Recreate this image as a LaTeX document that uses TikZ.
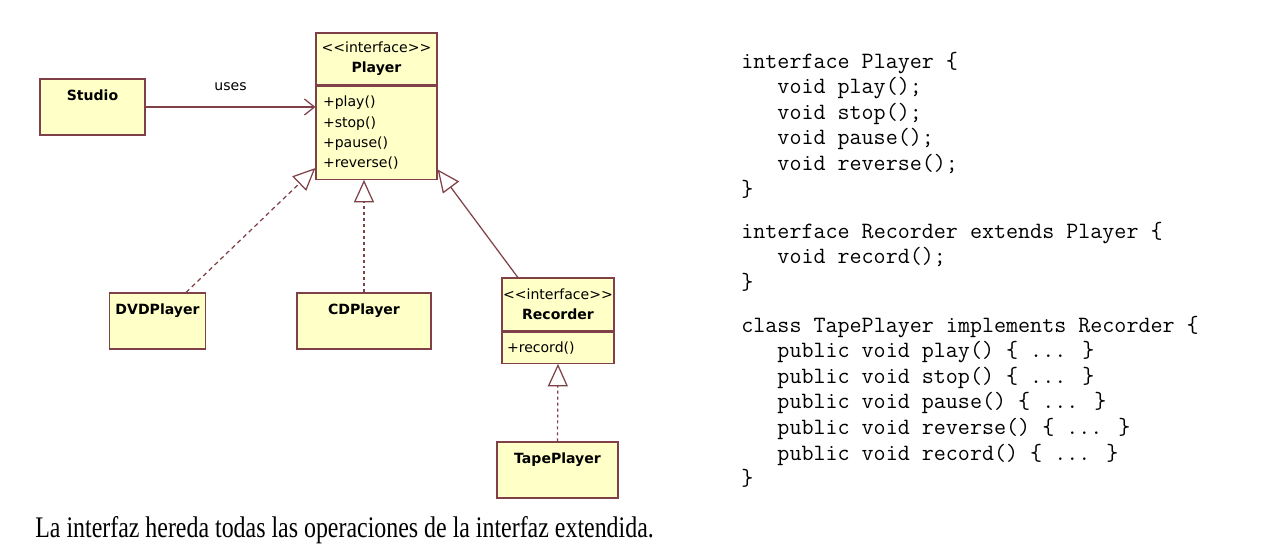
\documentclass[tikz,border=0pt]{standalone}
\usepackage{fontspec}
\setmainfont{Liberation Serif}
\newfontfamily\umlfont{DejaVu Sans}
\newfontfamily\capfont[FakeStretch=0.80]{Liberation Serif}
\usepackage{tikz}
\usetikzlibrary{arrows.meta, positioning}

\definecolor{umlline}{RGB}{128,64,72}
\definecolor{umlfill}{RGB}{255,255,200}
\newcommand{\codeindent}{\hphantom{xxx}}

\tikzset{
    classbox/.style={draw=umlline, line width=0.7pt, fill=umlfill, rectangle, inner ysep=0pt,
        font={\umlfont\fontsize{8}{11.3}\selectfont}, text height=0.42cm, text depth=0.70cm},
    headbox/.style={draw=umlline, line width=0.7pt, fill=umlfill, rectangle, inner sep=0pt, align=center,
        font={\umlfont\fontsize{8}{11.3}\selectfont}},
    opsbox/.style={draw=umlline, line width=0.7pt, fill=umlfill, rectangle, inner ysep=0pt, align=left,
        font={\umlfont\fontsize{8}{11.5}\selectfont}},
    codeblock/.style={anchor=base west, inner sep=0pt,
        font={\ttfamily\fontsize{13.3}{14.57}\selectfont}},
    uses/.style={draw=umlline, line width=0.7pt, -{Straight Barb[length=0.2cm, width=0.32cm]}},
    realizes/.style={draw=umlline, line width=0.7pt, -{Triangle[open, length=0.45cm, width=0.4cm]}}
}

\begin{document}
\begin{tikzpicture}
    \fill[white] (0,0) rectangle (25.36,-11.16);

    % interfaces
    \node[headbox, minimum width=2.42cm, minimum height=1.04cm] (player) at (7.53,-1.18) {<{}<interface>{}>\\\textbf{Player}};
    \node[opsbox, text width=2.14cm, inner xsep=0.14cm, minimum height=1.86cm, below=0pt of player] (playerops) {+play()\\+stop()\\+pause()\\+reverse()};

    \node[headbox, minimum width=2.24cm, minimum height=1.06cm] (recorder) at (11.16,-6.09) {<{}<interface>{}>\\\textbf{Recorder}};
    \node[opsbox, text width=2.04cm, inner xsep=0.1cm, minimum height=0.62cm, below=0pt of recorder] (recorderops) {+record()};

    % classes
    \node[classbox, minimum width=2.1cm] (studio) at (1.85,-2.14) {\textbf{Studio}};
    \node[classbox, minimum width=1.86cm] (dvd) at (3.15,-6.42) {\textbf{DVDPlayer}};
    \node[classbox, minimum width=2.68cm] (cd) at (7.28,-6.42) {\textbf{CDPlayer}};
    \node[classbox, minimum width=2.42cm] (tape) at (11.15,-9.40) {\textbf{TapePlayer}};

    % relations
    \draw[uses] (studio.east) -- (studio.east -| playerops.west)
        node[midway, above=0.2cm, font={\umlfont\fontsize{8}{10}\selectfont}] (useslabel) {uses};
    \draw[realizes, dash pattern=on 2.5pt off 2pt] (dvd.45) -- (playerops.210);
    \draw[realizes, dash pattern=on 1.7pt off 1.7pt] (cd.north) -- (cd.north |- playerops.south);
    \draw[realizes] (recorder.146) -- (playerops.-31);
    \draw[realizes, dash pattern=on 1.7pt off 1.7pt] (tape.north) -- (recorderops.south);

    % java code
    \node[codeblock] (codeplayer) at (14.82,-1.36) {\parbox[t]{10cm}{interface Player \{\\
        \codeindent void play();\\
        \codeindent void stop();\\
        \codeindent void pause();\\
        \codeindent void reverse();\\
        \}}};
    \node[codeblock] (coderecorder) at (14.82,-4.76) {\parbox[t]{10cm}{interface Recorder extends Player \{\\
        \codeindent void record();\\
        \}}};
    \node[codeblock] (codetape) at (14.82,-6.64) {\parbox[t]{10cm}{class TapePlayer implements Recorder \{\\
        \codeindent public void play() \{ ... \}\\
        \codeindent public void stop() \{ ... \}\\
        \codeindent public void pause() \{ ... \}\\
        \codeindent public void reverse() \{ ... \}\\
        \codeindent public void record() \{ ... \}\\
        \}}};

    \node[anchor=base west, inner sep=0pt, font={\capfont\fontsize{17}{20}\selectfont}] (caption) at (0.70,-10.74)
        {La interfaz hereda todas las operaciones de la interfaz extendida.};
\end{tikzpicture}
\end{document}
